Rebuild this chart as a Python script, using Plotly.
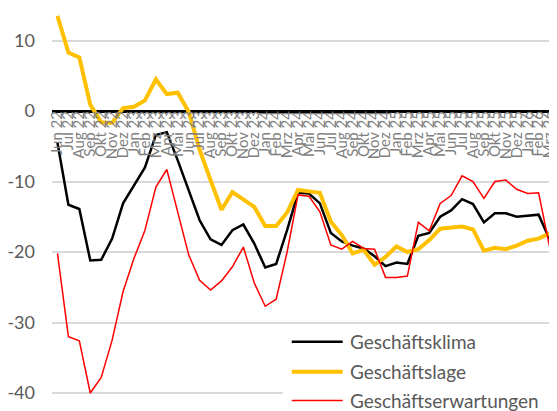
import plotly.graph_objects as go

months = ["Jun 22", "Jul 22", "Aug 22", "Sep 22", "Okt 22", "Nov 22", "Dez 22",
          "Jan 23", "Feb 23", "Mrz 23", "Apr 23", "Mai 23", "Jun 23", "Jul 23",
          "Aug 23", "Sep 23", "Okt 23", "Nov 23", "Dez 23", "Jan 24", "Feb 24",
          "Mrz 24", "Apr 24", "Mai 24", "Jun 24", "Jul 24", "Aug 24", "Sep 24",
          "Okt 24", "Nov 24", "Dez 24", "Jan 25", "Feb 25", "Mrz 25", "Apr 25",
          "Mai 25", "Jun 25", "Jul 25", "Aug 25", "Sep 25", "Okt 25", "Nov 25",
          "Dez 25", "Jan 26", "Feb 26", "Mrz 26"]

geschaeftsklima = [-4.5, -13.3, -13.9, -21.2, -21.1, -18.1, -13.1, -10.5, -8.0, -3.4,
                   -3.0, -7.0, -11.2, -15.5, -18.2, -19.0, -16.9, -16.1, -18.8, -22.2,
                   -21.7, -16.9, -11.6, -11.7, -13.1, -17.3, -18.5, -19.1, -19.5, -20.6,
                   -22.0, -21.5, -21.7, -17.7, -17.3, -15.0, -14.1, -12.5, -13.2, -15.8,
                   -14.5, -14.5, -15.0, -14.8, -14.7, -18.2]

geschaeftslage = [13.5, 8.3, 7.6, 0.9, -1.6, -1.7, 0.4, 0.6, 1.5, 4.5,
                  2.4, 2.6, -0.1, -5.5, -9.8, -14.0, -11.5, -12.6, -13.6, -16.3,
                  -16.3, -14.4, -11.2, -11.4, -11.6, -15.7, -17.6, -20.2, -19.7, -21.8,
                  -20.7, -19.2, -20.0, -19.6, -18.3, -16.7, -16.5, -16.4, -16.8, -19.8,
                  -19.4, -19.6, -19.1, -18.4, -18.1, -17.4]

geschaeftserwartungen = [-20.2, -32.0, -32.6, -40.0, -37.8, -32.5, -25.6, -20.9, -16.9, -10.8,
                         -8.3, -14.5, -20.4, -24.0, -25.4, -24.1, -22.1, -19.3, -24.4, -27.7,
                         -26.7, -20.0, -11.9, -12.1, -14.3, -19.0, -19.6, -18.5, -19.5, -19.6,
                         -23.6, -23.6, -23.4, -15.8, -17.0, -13.1, -12.0, -9.2, -10.0, -12.4,
                         -10.0, -9.8, -11.1, -11.7, -11.6, -19.2]

series_names = ["Geschäftsklima", "Geschäftslage", "Geschäftserwartungen"]
series_values = [geschaeftsklima, geschaeftslage, geschaeftserwartungen]
series_colors = ["#000000", "#FFC000", "#FF0000"]
series_widths = [2.5, 4, 1.5]

y_ticks = [-40, -30, -20, -10, 0, 10]

# page geometry (the html body adds an 8px offset)
OFF = 8
W, H = 557, 411
PLOT_LEFT, PLOT_RIGHT = 52, 555.5      # in page pixels
PLOT_TOP, PLOT_BOTTOM = 8, 419         # in page pixels
ZERO_Y, PX_PER_UNIT = 111, 7.05

L = PLOT_LEFT - OFF
R = (W + OFF) - PLOT_RIGHT
T = PLOT_TOP - OFF
B = (H + OFF) - PLOT_BOTTOM
y_max = (ZERO_Y - PLOT_TOP) / PX_PER_UNIT
y_min = -(PLOT_BOTTOM - ZERO_Y) / PX_PER_UNIT

fig = go.Figure()
for name, vals, col, w in zip(series_names, series_values, series_colors, series_widths):
    fig.add_trace(go.Scatter(x=months, y=vals, mode="lines", name=name,
                             line=dict(color=col, width=w), hoverinfo="skip"))

pw = PLOT_RIGHT - PLOT_LEFT
ph = PLOT_BOTTOM - PLOT_TOP


def px_x(p):
    return (p - PLOT_LEFT) / pw


def px_y(p):
    return (PLOT_BOTTOM - p) / ph


shapes = [dict(type="rect", xref="paper", yref="paper",
               x0=px_x(283), x1=px_x(W + 20), y0=px_y(328), y1=px_y(H + 20),
               fillcolor="white", line=dict(width=0), layer="above")]
annotations = []
leg_y = [341.7, 371.7, 400.5]
for name, col, w, yy in zip(series_names, series_colors, series_widths, leg_y):
    shapes.append(dict(type="line", xref="paper", yref="paper",
                       x0=px_x(292), x1=px_x(343), y0=px_y(yy), y1=px_y(yy),
                       line=dict(color=col, width=w), layer="above"))
    annotations.append(dict(xref="paper", yref="paper", x=px_x(348), y=px_y(yy),
                            text=name, showarrow=False, xanchor="left", yanchor="middle",
                            font=dict(family="Lato", size=19, color="#595959")))

fig.update_layout(
    width=W, height=H,
    margin=dict(l=L, r=R, t=T, b=B),
    plot_bgcolor="white", paper_bgcolor="white",
    showlegend=False,
    font=dict(family="Lato"),
    shapes=shapes,
    annotations=annotations,
    xaxis=dict(type="category", categoryorder="array", categoryarray=months,
               tickmode="array", tickvals=months, ticktext=months,
               range=[-0.5, len(months) - 0.5],
               anchor="free", position=(0 - y_min) / (y_max - y_min),
               tickangle=-90, ticks="", showgrid=False, showline=False,
               zeroline=False, automargin=False, ticklabelstandoff=-4,
               tickfont=dict(family="Lato", size=15, color="#7f7f7f")),
    yaxis=dict(range=[y_min, y_max], tickvals=y_ticks,
               ticktext=[str(v) for v in y_ticks],
               showgrid=True, gridcolor="#d9d9d9", gridwidth=1.5,
               zeroline=True, zerolinecolor="#000000", zerolinewidth=2.5,
               showline=False, ticks="", automargin=False, ticklabelstandoff=16,
               tickfont=dict(family="Lato", size=18, color="#595959")),
)

fig.write_html("out.html")
